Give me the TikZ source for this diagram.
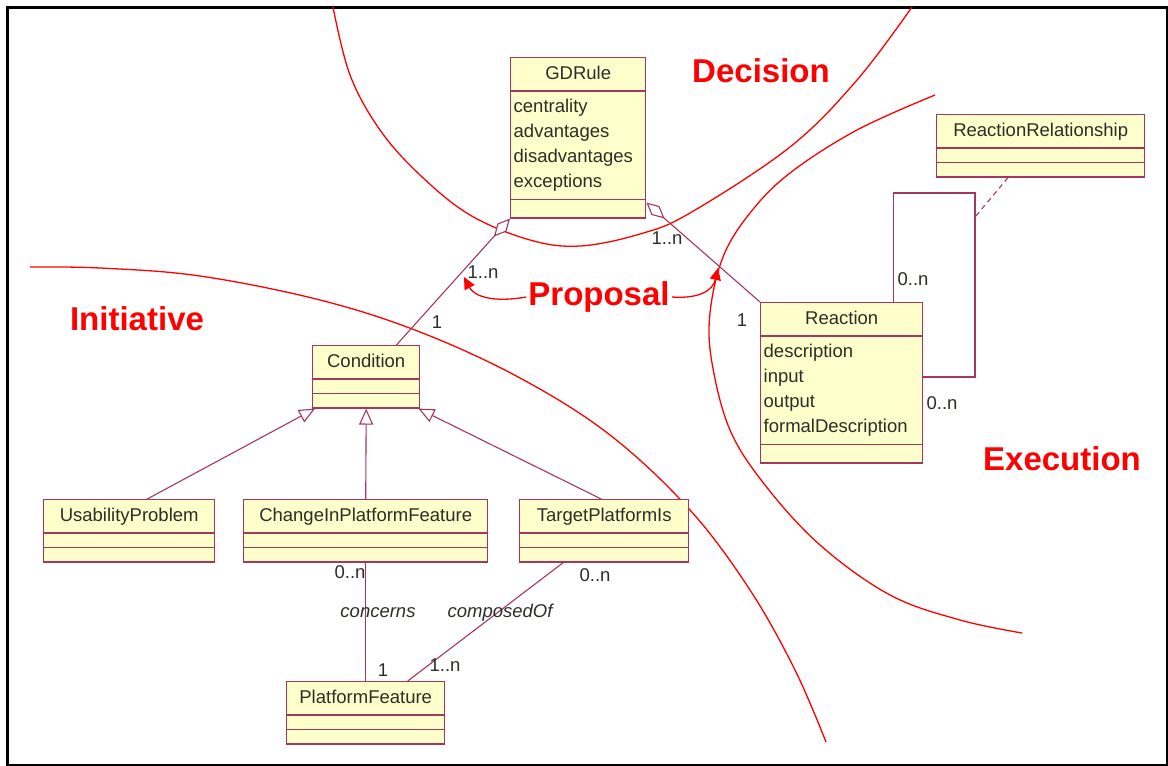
\documentclass[tikz,border=0pt]{standalone}
\usepackage{fontspec}
\setmainfont{Liberation Sans}
\usetikzlibrary{shapes.multipart,arrows.meta}

\definecolor{umlfill}{RGB}{255,255,204}
\definecolor{umlline}{RGB}{165,55,95}
\definecolor{umltext}{RGB}{45,45,40}
\definecolor{zonered}{RGB}{255,0,0}

\tikzset{
  umlclass/.style={rectangle split, rectangle split parts=3, draw=umlline, fill=umlfill,
    line width=1.4pt, text=umltext, font=\fontsize{18.5}{25}\selectfont,
    inner xsep=3pt, inner ysep=3.5pt, text width=#1, align=center,
    rectangle split empty part height=6pt, anchor=north west},
  assoc/.style={draw=umlline, line width=1.1pt},
  mult/.style={text=umltext, font=\fontsize{18.5}{22}\selectfont, inner sep=1pt},
  role/.style={mult, font=\fontsize{18.5}{22}\selectfont\itshape},
  region/.style={draw=zonered, line width=1.3pt},
  zone/.style={text=zonered, font=\fontsize{33}{36}\selectfont\bfseries, inner sep=2pt},
  propose/.style={draw=zonered, line width=1.3pt, -{Triangle[length=12pt,width=11pt]}}
}

\begin{document}
\begin{tikzpicture}[x=1pt, y=-1pt]
  \useasboundingbox (0,0) rectangle (1168,766);
  \fill[white] (0,0) rectangle (1168,766);
  \draw[line width=3pt] (7,7) rectangle (1167,765);

  % zone borders
  \draw[region] plot[smooth, tension=0.6] coordinates {(333,7) (350,75) (380,130) (420,175) (470,215) (530,240) (580,246) (640,234) (690,213) (790,147) (857,80) (912,7)};
  \draw[region] plot[smooth, tension=0.6] coordinates {(935,95) (857,130) (790,173) (750,213) (723,257) (710,313) (712,363) (730,430) (765,485) (820,545) (890,595) (960,620) (1022,633)};
  \draw[region] plot[smooth, tension=0.6] coordinates {(30,267) (100,268) (200,276) (320,300) (420,332) (520,378) (610,435) (690,510) (750,590) (795,670) (826,742)};

  % classes
  \node[umlclass=129pt, rectangle split empty part height=10pt] (gdrule) at (510,57) {\strut GDRule
    \nodepart{two}\raggedright\strut centrality\\advantages\\disadvantages\\exceptions\strut\par};
  \node[umlclass=101pt] (condition) at (312,345) {\strut Condition};
  \node[umlclass=165pt] (usability) at (43,499) {\strut UsabilityProblem};
  \node[umlclass=238pt] (change) at (243,499) {\strut ChangeInPlatformFeature};
  \node[umlclass=163pt] (target) at (519,499) {\strut TargetPlatformIs};
  \node[umlclass=152pt] (platform) at (286,681) {\strut PlatformFeature};
  \node[umlclass=156pt, rectangle split empty part height=10pt] (reaction) at (760,302) {\strut Reaction
    \nodepart{two}\raggedright\strut description\\input\\output\\formalDescription\strut\par};
  \node[umlclass=202pt] (reactrel) at (936,114) {\strut ReactionRelationship};

  % associations
  \draw[assoc, {Diamond[length=24pt,width=12pt,fill=white]}-] (gdrule.south west) -- ([xshift=-24pt]condition.north east);
  \draw[assoc, {Diamond[length=24pt,width=12pt,fill=white]}-] ([yshift=16pt]gdrule.south east) -- (reaction.north west);
  \coordinate (loop) at (975,193);
  \draw[assoc] ([xshift=-30pt]reaction.north east) |- (loop) |- ([yshift=-75pt]reaction.north east);
  \draw[assoc, dashed, dash pattern=on 5pt off 4pt] ([xshift=72pt]reactrel.south west) -- ([yshift=-24pt]loop);
  \draw[assoc] (change.south) -- (platform.north);
  \draw[assoc] ([xshift=-41pt]target.south) -- ([xshift=42pt]platform.north);

  % generalizations
  \draw[assoc, -{Triangle[length=16pt,width=14pt,fill=white]}] ([xshift=18pt]usability.north) -- ([xshift=3pt]condition.south west);
  \draw[assoc, -{Triangle[length=16pt,width=14pt,fill=white]}] (change.north) -- (condition.south);
  \draw[assoc, -{Triangle[length=16pt,width=14pt,fill=white]}] ([xshift=-3pt]target.north) -- ([xshift=-2pt]condition.south east);

  % multiplicities and roles
  \node[mult] (m-gd-cond) at (483,272) {1..n};
  \node[mult] (m-cond-gd) at (437,322) {1};
  \node[mult] (m-gd-react) at (667,238) {1..n};
  \node[mult] (m-react-gd) at (742,320) {1};
  \node[mult] (m-loop-a) at (913,279) {0..n};
  \node[mult] (m-loop-b) at (942,403) {0..n};
  \node[mult] (m-change) at (350,572) {0..n};
  \node[role] (r-concerns) at (378,613) {concerns};
  \node[mult] (m-pf-change) at (383,670) {1};
  \node[role] (r-composed) at (500,613) {composedOf};
  \node[mult] (m-pf-target) at (445,665) {1..n};
  \node[mult] (m-target) at (595,575) {0..n};

  % zone names
  \node[zone] (decision) at (761,71) {Decision};
  \node[zone] (initiative) at (137,319) {Initiative};
  \node[zone] (execution) at (1062,459) {Execution};
  \node[zone] (proposal) at (599,297) {Proposal};
  \coordinate (prop-l) at (464,277);
  \coordinate (prop-r) at (718,268);
  \draw[propose] (proposal.west) .. controls (492,303) and (474,296) .. (prop-l);
  \draw[propose] (proposal.east) .. controls (700,299) and (713,290) .. (prop-r);
\end{tikzpicture}
\end{document}
